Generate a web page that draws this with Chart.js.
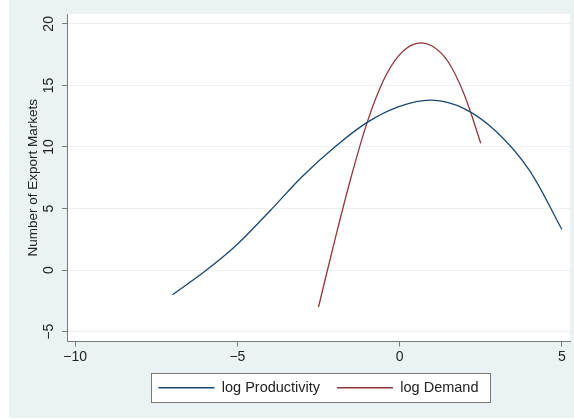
<!DOCTYPE html>
<html><head><meta charset="utf-8">
<script src="https://cdn.jsdelivr.net/npm/chart.js@4.4.1/dist/chart.umd.min.js"></script>
<style>html,body{margin:0;padding:0;background:#fff;} #wrap{width:574px;height:419px;position:relative;}</style>
</head><body><div id="wrap"><canvas id="c" width="574" height="419"></canvas></div>
<script>
// ---- data ----
const seriesNames = ['log Productivity', 'log Demand'];
const productivityX = [-7, -6, -5, -4, -3, -2, -1, 0, 1, 2, 3, 4, 5];
const productivityY = [-2.0, -0.1, 2.1, 4.8, 7.6, 10.0, 12.0, 13.3, 13.8, 13.1, 11.2, 8.1, 3.3];
const demandX = [-2.5, -2, -1.5, -1, -0.5, 0, 0.5, 1, 1.5, 2, 2.5];
const demandY = [-3.0, 2.4, 7.5, 12.0, 15.4, 17.5, 18.4, 18.2, 16.9, 14.2, 10.3];
const xTicks = [-10, -5, 0, 5];
const yTicks = [-5, 0, 5, 10, 15, 20];
const yTitle = 'Number of Export Markets';

const FONT = "'Liberation Sans', Arial, Helvetica, sans-serif";
const BG = '#EAF2F3';
const AXIS = '#7a7a7a';
const fmt = v => String(v).replace('-', '\u2212');

const bgPlugin = {
  id: 'bg',
  beforeDraw(chart) {
    const ctx = chart.ctx, a = chart.chartArea;
    ctx.save();
    ctx.fillStyle = '#ffffff';
    ctx.fillRect(0, 0, chart.width, chart.height);
    ctx.fillStyle = BG;
    ctx.fillRect(9, 0, chart.width - 9, chart.height - 1);
    ctx.fillStyle = '#ffffff';
    ctx.fillRect(a.left, a.top, a.right - a.left, a.bottom - a.top);
    // legend frame
    const hb = chart.legend && chart.legend.legendHitBoxes;
    if (hb && hb.length) {
      const first = hb[0], last = hb[hb.length - 1];
      const cy = first.top + first.height / 2;
      const l = first.left - 7, r = last.left + last.width + 12;
      ctx.fillStyle = '#ffffff';
      ctx.fillRect(l, cy - 14.5, r - l, 29);
      ctx.strokeStyle = AXIS;
      ctx.lineWidth = 1;
      ctx.strokeRect(Math.round(l) + 0.5, Math.round(cy - 14.5) + 0.5, Math.round(r - l), 29);
    }
    ctx.restore();
  }
};

new Chart(document.getElementById('c'), {
  type: 'line',
  data: {
    datasets: [
      { label: seriesNames[0], data: productivityX.map((x, i) => ({ x, y: productivityY[i] })),
        borderColor: '#1a476f', backgroundColor: '#1a476f', borderWidth: 1.3, pointRadius: 0, tension: 0.34, fill: false },
      { label: seriesNames[1], data: demandX.map((x, i) => ({ x, y: demandY[i] })),
        borderColor: '#90353b', backgroundColor: '#90353b', borderWidth: 1.3, pointRadius: 0, tension: 0.34, fill: false }
    ]
  },
  options: {
    responsive: false, animation: false, devicePixelRatio: 1,
    layout: { padding: { left: 0, right: 4, top: 14, bottom: 14 } },
    plugins: {
      legend: {
        position: 'bottom', fullSize: false,
        labels: { font: { family: FONT, size: 14.5 }, color: '#222', usePointStyle: true, pointStyle: 'line', pointStyleWidth: 56, padding: 17 }
      },
      tooltip: { enabled: false }
    },
    scales: {
      x: {
        type: 'linear', min: -10.25, max: 5.25,
        afterBuildTicks: s => { s.ticks = xTicks.map(v => ({ value: v })); },
        afterFit: s => { s.height = 22; },
        grid: { drawOnChartArea: false, tickLength: 5, tickColor: AXIS },
        border: { color: AXIS },
        ticks: { font: { family: FONT, size: 14 }, color: '#222', padding: 2, callback: v => fmt(v) }
      },
      y: {
        type: 'linear', min: -5.8, max: 20.8,
        afterBuildTicks: s => { s.ticks = yTicks.map(v => ({ value: v })); },
        afterFit: s => { s.width = 67; },
        grid: { color: BG, tickLength: 5, tickColor: AXIS },
        border: { color: AXIS },
        ticks: { font: { family: FONT, size: 14 }, color: '#222', minRotation: 90, maxRotation: 90, crossAlign: 'center', padding: 5, callback: v => fmt(v) },
        title: { display: true, text: yTitle, font: { family: FONT, size: 13.5 }, color: '#222', padding: { top: 25, bottom: 0 } }
      }
    }
  },
  plugins: [bgPlugin]
});
</script></body></html>
